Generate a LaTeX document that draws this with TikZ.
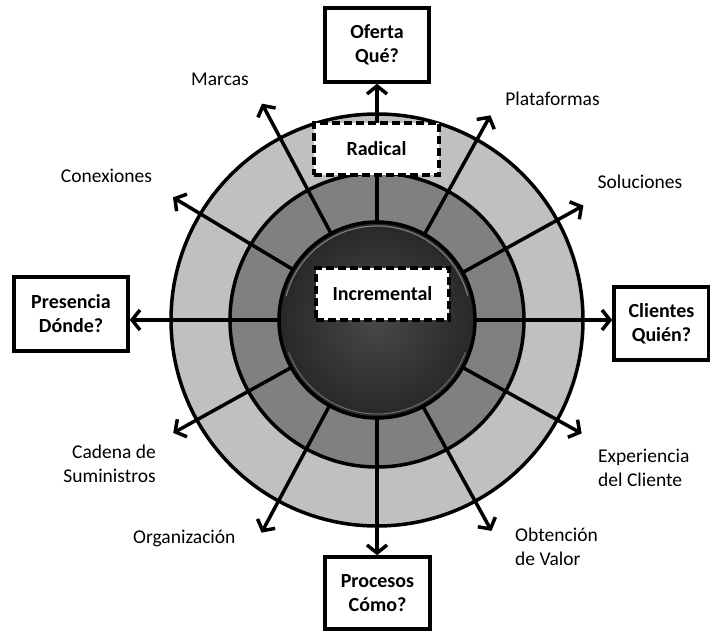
\documentclass[tikz,border=0pt]{standalone}
\usepackage{fontspec}
\setmainfont{Carlito}
\usetikzlibrary{arrows.meta}
\definecolor{ringout}{RGB}{192,192,192}
\definecolor{ringmid}{RGB}{128,128,128}
\definecolor{coreinner}{RGB}{72,72,72}
\definecolor{coreouter}{RGB}{40,40,40}
\begin{document}
\begin{tikzpicture}[x=1pt,y=1pt,
  lbl/.style={font=\fontsize{19.5}{24}\selectfont, inner sep=0pt},
  dimbox/.style={draw, line width=3.5pt, fill=white, align=center, inner sep=0pt,
    font=\fontsize{20}{24}\selectfont\bfseries},
  levelbox/.style={draw, line width=3.5pt, dash pattern=on 8pt off 4pt, fill=white,
    inner sep=0pt, minimum height=52pt, font=\fontsize{20}{24}\selectfont\bfseries},
  ring/.style={line width=3.5pt},
  arr/.style={line width=3.5pt, -{Straight Barb[length=8pt,width=20pt]}}]
\useasboundingbox (0,0) rectangle (710,630);
\coordinate (C) at (377,310);

% rings
\fill[ringout] (C) circle (206);
\draw[ring, fill=ringmid] (C) circle (147);
\draw[ring] (C) circle (206);

% dimension boxes
\node[dimbox, minimum width=104pt, minimum height=74pt] (oferta) at (377,585) {Oferta\\Qué?};
\node[dimbox, minimum width=114pt, minimum height=74pt] (presencia) at (71,316) {Presencia\\Dónde?};
\node[dimbox, minimum width=95pt, minimum height=73pt] (clientes) at (661.5,306.5) {Clientes\\Quién?};
\node[dimbox, minimum width=105pt, minimum height=72pt] (procesos) at (377.5,37) {Procesos\\Cómo?};

% arrow end points of the diagonal dimensions
\path (C) ++(29:236)    coordinate (tsol);
\path (C) ++(61:234)    coordinate (tpla);
\path (C) ++(118:245)   coordinate (tmar);
\path (C) ++(149:238)   coordinate (tcon);
\path (C) ++(209:233)   coordinate (tcad);
\path (C) ++(241.5:242) coordinate (torg);
\path (C) ++(298.5:240) coordinate (tobt);
\path (C) ++(331:234)   coordinate (texp);

% core
\node[circle, minimum size=196pt, inner sep=0pt, outer sep=0pt] (core) at (C) {};

% spokes
\draw[arr] (core.90) -- (oferta.south);
\draw[arr] (core.180) -- (core.180 -| presencia.east);
\draw[arr] (core.0) -- (core.0 -| clientes.west);
\draw[arr] (core.270) -- (core.270 |- procesos.north);
\draw[arr] (core.29) -- (tsol);
\draw[arr] (core.61) -- (tpla);
\draw[arr] (core.118) -- (tmar);
\draw[arr] (core.149) -- (tcon);
\draw[arr] (core.209) -- (tcad);
\draw[arr] (core.241.5) -- (torg);
\draw[arr] (core.298.5) -- (tobt);
\draw[arr] (core.331) -- (texp);

% shaded core disc
\shade[inner color=coreinner, outer color=coreouter] (C) circle (98);
\draw[gray!75, line width=1.2pt, opacity=.7] (C) ++(15:94) arc (15:165:94);
\draw[gray!60, line width=1pt, opacity=.5] (C) ++(200:94) arc (200:340:94);
\draw[ring] (C) circle (98);

% level boxes
\node[levelbox, minimum width=125pt] (radical) at (376.5,481) {Radical};
\node[levelbox, minimum width=133pt] (incremental) at (382.5,336) {Incremental};

% dimension labels
\node[lbl, anchor=base] (marcas) at (220,544) {Marcas};
\node[lbl, anchor=base] (plataformas) at (552.5,524) {Plataformas};
\node[lbl, anchor=base] (conexiones) at (106.5,447) {Conexiones};
\node[lbl, anchor=base] (soluciones) at (640,441) {Soluciones};
\node[lbl, anchor=base west] (organizacion) at (133,87) {Organización};
\node[lbl, align=right, anchor=north east] (cadena) at (156,185) {Cadena de\\Suministros};
\node[lbl, align=left, anchor=north west] (experiencia) at (598,181) {Experiencia\\del Cliente};
\node[lbl, align=left, anchor=north west] (obtencion) at (515,102) {Obtención\\de Valor};
\end{tikzpicture}
\end{document}
